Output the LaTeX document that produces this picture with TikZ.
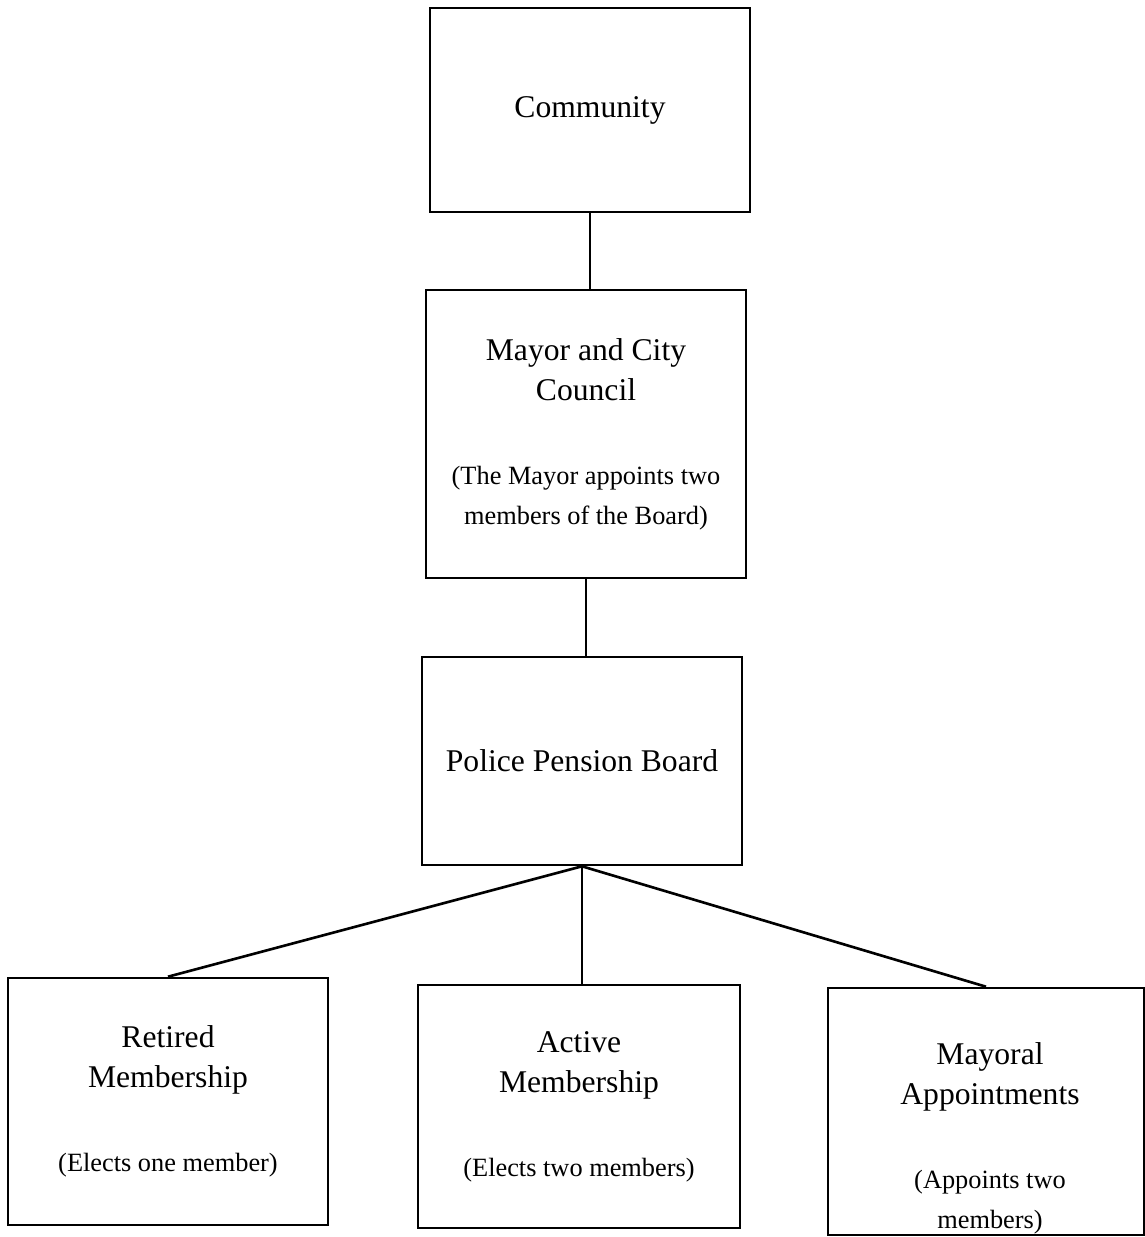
\documentclass[tikz,border=0pt]{standalone}
\usepackage{fontspec}
\setmainfont{Liberation Serif}
\usepackage{tikz}
\usetikzlibrary{positioning}

\newcommand{\notesize}{\fontsize{15}{22.8}\selectfont}

\begin{document}
\begin{tikzpicture}
	[   x=0.02cm, y=-0.02cm,
	    otext/.style={align=center,font=\fontsize{18}{22.8}\selectfont},
	    obox/.style={otext,draw=black,line width=1.5pt,minimum width=6.4cm},
	]
	\tikzset{plain line/.style={draw,line width=1.5pt}}
	\useasboundingbox (0,0) rectangle (1145,1237);
	
	\node[obox,minimum height=4.08cm] (community) at (590,110) {Community};
	\node[obox,minimum height=5.76cm] (mayor) at (586,434) {Mayor and City\\Council\\[25pt]\notesize (The Mayor appoints two\\\notesize members of the Board)};
	\node[obox,minimum height=4.16cm] (board) at (582,761) {Police Pension Board};
	
	\node[obox,minimum height=4.94cm] (retired) at (168,1101.5) {Retired\\Membership\\[25pt]\notesize (Elects one member)};
	\node[obox,minimum width=6.44cm,minimum height=4.86cm] (active) at (579,1106.5) {Active\\Membership\\[25pt]\notesize (Elects two members)};
	\node[obox,minimum width=6.32cm,minimum height=4.94cm] (mayoral) at (986,1111.5) {};
	\node[otext] (mayoral-text) at (990,1138) {Mayoral\\Appointments\\[25pt]\notesize (Appoints two\\\notesize members)};
	
	\path[plain line] (community.south) -- (community.south |- mayor.north);
	\path[plain line] (mayor.south) -- (mayor.south |- board.north);
	\path[plain line] (board.south) -- (board.south |- active.north);
	\foreach \c in {retired,mayoral}
	{
		\path[plain line] (board.south) -- (\c.north);
	}
\end{tikzpicture}
\end{document}
